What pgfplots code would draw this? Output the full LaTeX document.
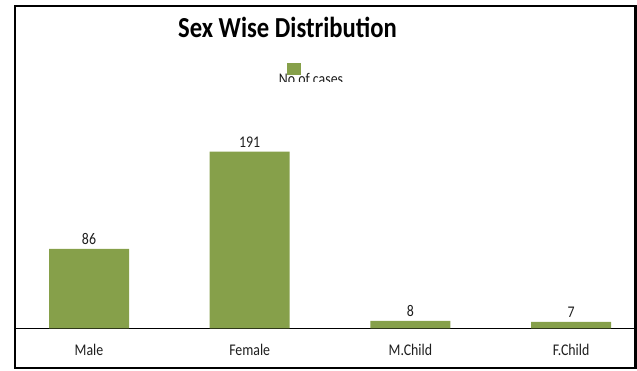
\documentclass[border=0pt]{standalone}
\usepackage{pgfplots}
\pgfplotsset{compat=1.18}
\usepackage{fontspec}
\setmainfont{Carlito}[FakeStretch=0.85]
\definecolor{barolive}{RGB}{134,160,74}
\definecolor{labelgray}{RGB}{30,30,30}
\begin{document}
\begin{tikzpicture}[x=1pt,y=1pt]
\useasboundingbox (0,0) rectangle (637,370);
\begin{axis}[
  at={(14.7pt,41.7pt)}, anchor=south west,
  scale only axis,
  width=620.8pt, height=184.9pt,
  xmin=-0.4625, xmax=3.401,
  ymin=0, ymax=200,
  axis x line*=bottom,
  axis y line=none,
  x axis line style={line width=1.3pt, black},
  xtick={0,1,2,3},
  xticklabels={Male,Female,M.Child,F.Child},
  major tick length=0pt,
  xticklabel style={font=\fontsize{16.3}{19}\selectfont, text=labelgray, anchor=base, yshift=-27pt},
  /pgf/number format/assume math mode=true,
  ybar, bar width=80pt,
  nodes near coords,
  every node near coord/.append style={font=\fontsize{16.3}{19}\selectfont, text=labelgray, anchor=base, yshift=4pt},
  clip=false,
]
\addplot[fill=barolive, draw=none] coordinates {(0,86) (1,191) (2,8) (3,7)};
\end{axis}
% chart frame
\draw[line width=2.4pt, black] (14.7,2) rectangle (635.5,364);
% title
\node[anchor=base, font=\fontsize{29}{32}\selectfont\bfseries] at (287.5,332) {Sex Wise Distribution};
% legend, its text cut off at the bottom
\begin{scope}
\clip (270,288) rectangle (360,310);
\node[anchor=base, font=\fontsize{16.3}{19}\selectfont, text=labelgray] at (311,285) {No of cases};
\end{scope}
\fill[barolive] (287,295) rectangle (301,307);
\end{tikzpicture}
\end{document}
